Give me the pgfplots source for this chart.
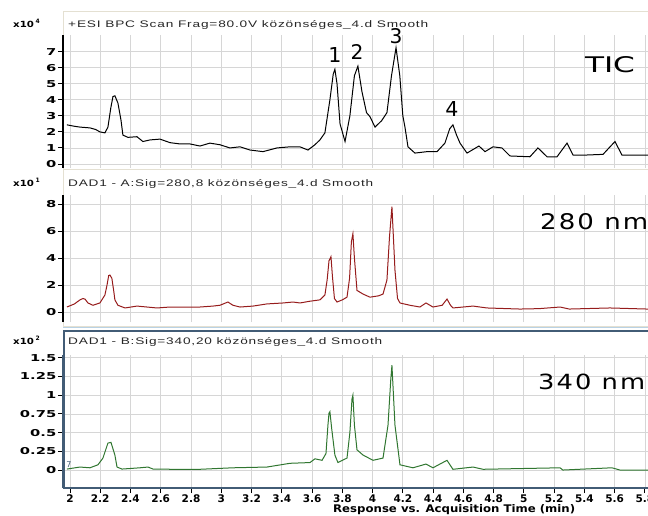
\documentclass[border=0pt]{standalone}
\usepackage{fontspec}
\setmainfont{Liberation Sans}
\newfontfamily\annfont{DejaVu Sans}
\newfontfamily\annwide[LetterSpace=8]{DejaVu Sans}
\newfontfamily\titlefont[LetterSpace=6]{Liberation Sans}
\newfontfamily\dvs{DejaVu Sans}
\newcommand\tickfont{\dvs\bfseries}
\usepackage{pgfplots}
\pgfplotsset{compat=1.18}
\definecolor{gridc}{RGB}{214,214,214}
\definecolor{frameA}{RGB}{228,224,210}
\definecolor{frameC}{RGB}{66,92,118}
\definecolor{lblue}{RGB}{185,210,228}
\definecolor{redc}{RGB}{150,28,28}
\definecolor{greenc}{RGB}{48,118,48}
\newcommand\xten[1]{\scalebox{1.2}[1]{\tickfont\fontsize{8.5}{9}\selectfont x10}\,\raisebox{4pt}{\tickfont\fontsize{6}{7}\selectfont #1}}
\pgfplotsset{
  panel/.style={
    scale only axis, anchor=south west, width=637pt,
    xmin=1.954, xmax=6.164,
    axis lines*=left, axis line style={-},
    xtick={2,2.2,2.4,2.6,2.8,3,3.2,3.4,3.6,3.8,4,4.2,4.4,4.6,4.8,5,5.2,5.4,5.6,5.8,6},
    grid=major, major grid style={gridc, line width=0.8pt},
    tick align=outside, major tick length=5pt,
    tick style={black, line width=0.9pt},
    y axis line style={black, line width=1.4pt},
    /pgf/number format/assume math mode=true,
    yticklabel={\scalebox{1.55}[1]{\tickfont\fontsize{9.5}{10}\selectfont\pgfmathprintnumber{\tick}}},
    yticklabel style={inner sep=1.5pt},
  },
  toppanel/.style={panel, xticklabels={}, x axis line style={draw=none}, xtick style={draw=none}},
}
\begin{document}
\begin{tikzpicture}[x=1pt,y=1pt]
\path[use as bounding box] (0,0) rectangle (648,515);
% panel frames
\draw[frameA, line width=1pt] (63,345) rectangle (720,503);
\draw[frameA, line width=1pt] (63,189) rectangle (720,345);
\draw[lblue, line width=1.8pt] (63,187.5) -- (720,187.5);

% ---------- TIC ----------
\begin{axis}[toppanel, at={(63pt,347pt)}, height=133pt, ymin=-0.25, ymax=8.04, ytick={0,1,2,3,4,5,6,7}]
\addplot[black, line width=1pt] coordinates {
(1.980,2.44) (2.030,2.35) (2.066,2.30) (2.132,2.25) (2.170,2.15) (2.198,2.00) (2.231,1.94)
(2.251,2.30) (2.270,3.50) (2.284,4.20) (2.297,4.25) (2.317,3.80) (2.337,2.75) (2.350,1.80)
(2.383,1.66) (2.443,1.70) (2.482,1.40) (2.529,1.50) (2.595,1.55) (2.661,1.33) (2.727,1.25)
(2.793,1.25) (2.859,1.12) (2.925,1.30) (2.991,1.20) (3.057,1.00) (3.124,1.07) (3.190,0.87)
(3.276,0.77) (3.368,1.00) (3.454,1.07) (3.520,1.07) (3.573,0.87) (3.619,1.20) (3.652,1.50)
(3.685,1.94) (3.718,4.00) (3.740,5.60) (3.751,5.90) (3.765,5.00) (3.785,2.50) (3.818,1.40)
(3.850,3.00) (3.880,5.50) (3.903,6.10) (3.930,4.50) (3.960,3.20) (3.983,2.95) (4.016,2.30)
(4.060,2.70) (4.095,3.20) (4.125,5.50) (4.155,7.25) (4.180,5.50) (4.200,3.00) (4.214,2.30)
(4.234,1.07) (4.280,0.68) (4.360,0.77) (4.426,0.77) (4.478,1.30) (4.510,2.20) (4.531,2.44)
(4.555,1.80) (4.578,1.30) (4.624,0.68) (4.703,1.12) (4.743,0.77) (4.796,1.07) (4.855,1.00)
(4.908,0.50) (5.040,0.45) (5.093,1.00) (5.153,0.45) (5.219,0.45) (5.285,1.30) (5.325,0.56)
(5.417,0.56) (5.523,0.60) (5.602,1.40) (5.648,0.56) (5.814,0.56) (6.100,0.56)
};
\end{axis}

% ---------- 280 nm ----------
\begin{axis}[toppanel, at={(63pt,193pt)}, height=127pt, ymin=-0.74, ymax=8.67, ytick={0,2,4,6,8}]
\addplot[redc, line width=1pt] coordinates {
(1.980,0.37) (2.030,0.60) (2.066,0.90) (2.086,1.00) (2.100,0.95) (2.119,0.67) (2.152,0.50)
(2.198,0.67) (2.231,1.26) (2.245,2.00) (2.256,2.70) (2.264,2.74) (2.277,2.50) (2.290,1.50)
(2.297,0.90) (2.317,0.50) (2.364,0.30) (2.443,0.44) (2.509,0.37) (2.575,0.30) (2.661,0.37)
(2.773,0.37) (2.859,0.37) (2.945,0.44) (2.991,0.50) (3.044,0.74) (3.077,0.50) (3.124,0.37)
(3.210,0.44) (3.302,0.60) (3.408,0.67) (3.474,0.74) (3.520,0.67) (3.586,0.80) (3.652,0.90)
(3.685,1.26) (3.700,2.40) (3.712,3.80) (3.725,4.10) (3.735,2.60) (3.748,1.00) (3.765,0.74)
(3.800,0.90) (3.831,1.10) (3.848,2.50) (3.860,5.20) (3.870,5.80) (3.880,4.00) (3.897,1.60)
(3.937,1.33) (3.983,1.10) (4.040,1.20) (4.069,1.33) (4.095,2.37) (4.112,5.60) (4.128,7.80)
(4.140,5.00) (4.148,3.10) (4.165,1.00) (4.181,0.67) (4.247,0.50) (4.313,0.37) (4.353,0.67)
(4.399,0.37) (4.460,0.50) (4.492,0.96) (4.515,0.50) (4.531,0.30) (4.664,0.44) (4.756,0.30)
(4.974,0.22) (5.100,0.25) (5.239,0.37) (5.300,0.22) (5.569,0.30) (5.814,0.22) (6.100,0.22)
};
\end{axis}

% ---------- 340 nm ----------
\begin{axis}[panel, at={(63pt,27pt)}, height=133pt, ymin=-0.24, ymax=1.537,
  ytick={0,0.25,0.5,0.75,1,1.25,1.5},
  xticklabels={2,2.2,2.4,2.6,2.8,3,3.2,3.4,3.6,3.8,4,4.2,4.4,4.6,4.8,5,5.2,5.4,5.6,5.8,6},
  xticklabel style={font=\tickfont\fontsize{10.5}{11}\selectfont, inner sep=0pt, yshift=-1.5pt},
  x axis line style={frameC, line width=2.5pt}, y axis line style={frameC, line width=2.5pt}]
\addplot[greenc, line width=1pt] coordinates {
(1.980,0.013) (2.066,0.04) (2.132,0.03) (2.185,0.07) (2.218,0.16) (2.251,0.36) (2.271,0.37)
(2.297,0.20) (2.311,0.04) (2.344,0.013) (2.463,0.03) (2.516,0.04) (2.549,0.013) (2.681,0.01)
(2.859,0.01) (3.077,0.03) (3.302,0.04) (3.454,0.09) (3.586,0.10) (3.619,0.15) (3.666,0.13)
(3.692,0.22) (3.705,0.60) (3.712,0.76) (3.718,0.78) (3.730,0.55) (3.751,0.20) (3.771,0.10)
(3.831,0.16) (3.850,0.50) (3.864,0.95) (3.870,1.00) (3.880,0.60) (3.897,0.27) (3.937,0.20)
(4.003,0.13) (4.069,0.16) (4.102,0.60) (4.120,1.20) (4.128,1.40) (4.138,1.00) (4.148,0.60)
(4.181,0.07) (4.267,0.03) (4.353,0.08) (4.399,0.03) (4.492,0.13) (4.531,0.01) (4.664,0.04)
(4.730,0.01) (5.239,0.03) (5.258,0.00) (5.582,0.03) (5.635,0.00) (5.814,0.00) (6.100,0.00)
};
\end{axis}
\draw[frameC, line width=2.5pt] (64,27) -- (64,184) -- (720,184);

% titles
\node[anchor=base west, inner sep=0, text=black!85] at (68,487.7) {\resizebox{360pt}{7pt}{\titlefont +ESI BPC Scan Frag=80.0V közönséges\_4.d Smooth}};
\node[anchor=base west, inner sep=0, text=black!85] at (68,328) {\resizebox{305pt}{7pt}{\titlefont DAD1 - A:Sig=280,8 közönséges\_4.d Smooth}};
\node[anchor=base west, inner sep=0, text=black!85] at (68,171) {\resizebox{314pt}{7pt}{\titlefont DAD1 - B:Sig=340,20 közönséges\_4.d Smooth}};

% multipliers
\node[anchor=base west, inner sep=0] at (13,487.7) {\xten{4}};
\node[anchor=base west, inner sep=0] at (13,328) {\xten{1}};
\node[anchor=base west, inner sep=0] at (13,171) {\xten{2}};
\node[inner sep=0, text=frameC, font=\dvs\fontsize{8}{8}\selectfont] at (69,50) {7};

% annotations
\node[inner sep=0] at (335,460) {\resizebox{!}{15pt}{\annfont 1}};
\node[inner sep=0] at (357,462.5) {\resizebox{!}{15pt}{\annfont 2}};
\node[inner sep=0] at (396,478.5) {\resizebox{!}{15pt}{\annfont 3}};
\node[inner sep=0] at (452,406) {\resizebox{!}{15pt}{\annfont 4}};
\node[inner sep=0] at (610,450) {\resizebox{50pt}{16pt}{\annfont TIC}};
\node[inner sep=0, anchor=west] at (540,293) {\resizebox{108pt}{16pt}{\annwide 280 nm}};
\node[inner sep=0, anchor=west] at (538,133) {\resizebox{107pt}{15.5pt}{\annwide 340 nm}};

% x label
\node[anchor=base west, inner sep=0] at (333,3) {\resizebox{242pt}{8pt}{\tickfont Response vs. Acquisition Time (min)}};
\end{tikzpicture}
\end{document}
